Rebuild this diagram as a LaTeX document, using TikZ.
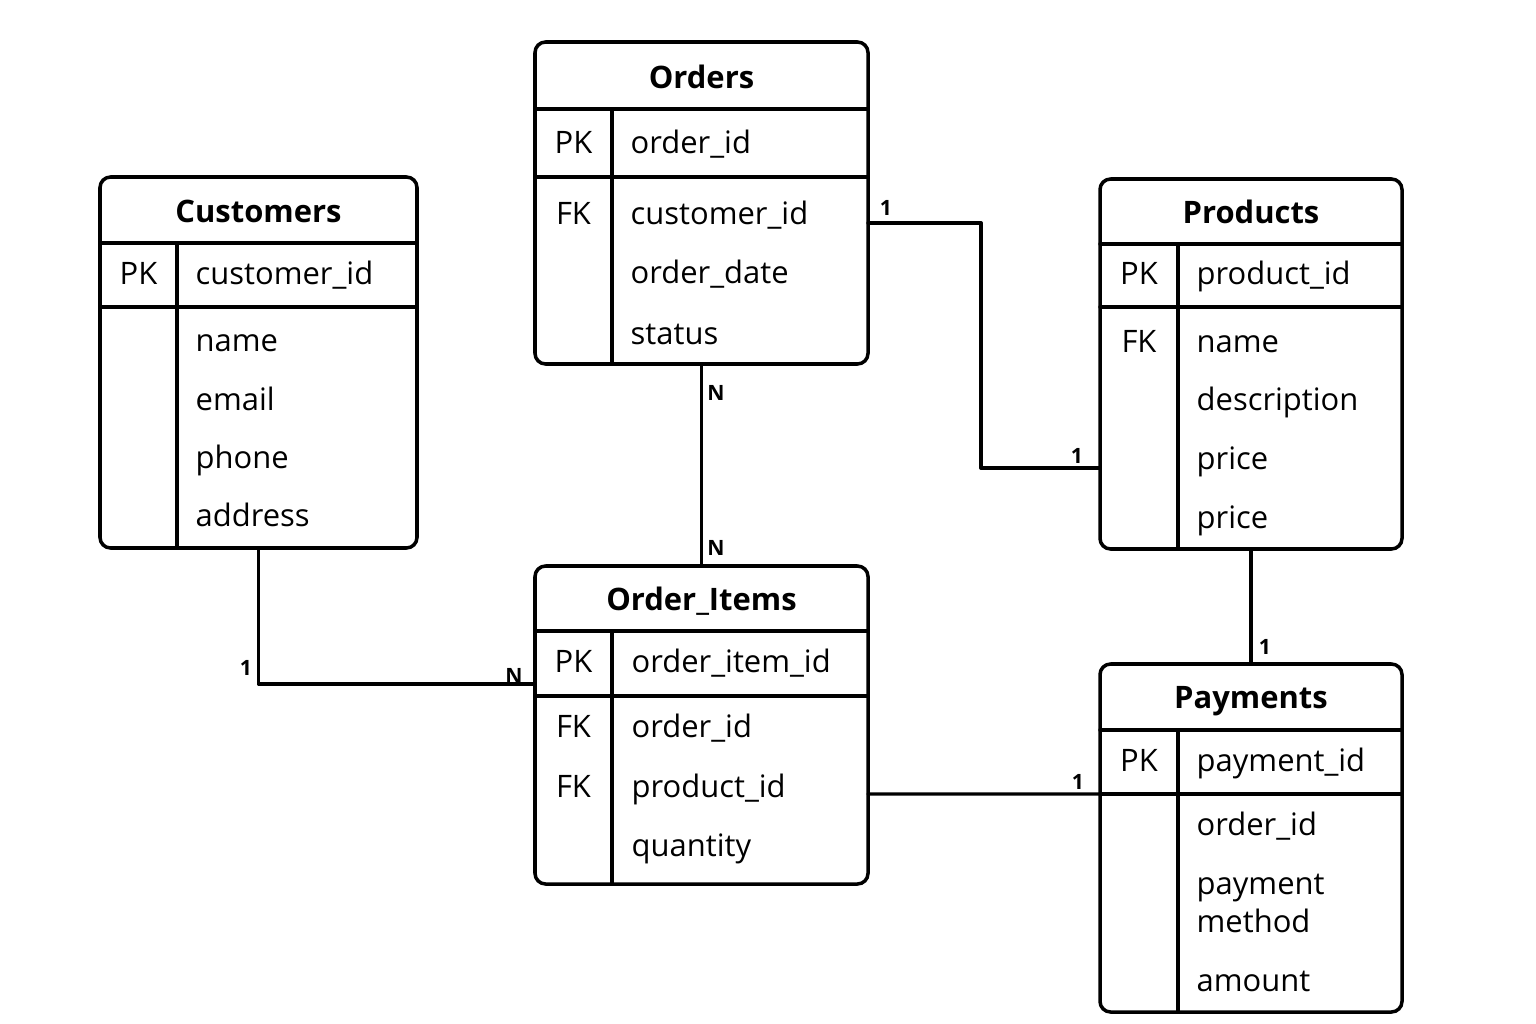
\documentclass[tikz,border=0pt]{standalone}
\usepackage{fontspec}
\setmainfont{Open Sans}
\usetikzlibrary{fit}

\newcommand{\attrfont}{\fontsize{8.8}{10.8}\selectfont}

\tikzset{
  table/.style={draw, line width=1pt, rounded corners=3pt, inner sep=0pt, outer sep=0pt},
  rule/.style={line width=1pt},
  link/.style={line width=0.95pt},
  title/.style={font=\bfseries\attrfont, text height=1.6ex, text depth=0.45ex, inner sep=0pt},
  keyf/.style={font=\attrfont, text height=1.6ex, text depth=0.45ex, inner sep=0pt},
  attr/.style={anchor=west, font=\attrfont, text height=1.6ex, text depth=0.45ex, inner sep=0pt},
  card/.style={font=\bfseries\fontsize{6}{7}\selectfont, inner sep=0pt}
}

% frame of one table: name, left, top, right, bottom, title rule, key rule, column
\newcommand{\ertable}[8]{%
  \node[table, fit={(#2,#3) (#4,#5)}] (#1) {};
  \draw[rule] (#2,#6) -- (#4,#6);
  \draw[rule] (#2,#7) -- (#4,#7);
  \draw[rule] (#8,#6) -- (#8,#5);
}

\begin{document}
\begin{tikzpicture}[x=0.01cm, y=-0.01cm, line cap=round, line join=round]

\useasboundingbox (0,0) rectangle (1536,1024);

% Customers
\ertable{cust}{100}{177}{417}{548}{243}{307}{177}
\node[title] (custT) at (258.5,212) {Customers};
\node[keyf] (custK) at (138.5,274) {PK};
\node[attr] (custId) at (195,274) {customer\_id};
\node[attr] (custName) at (195,341) {name};
\node[attr] (custMail) at (195,400) {email};
\node[attr] (custPhone) at (195,458) {phone};
\node[attr] (custAddr) at (195,516) {address};

% Orders
\ertable{ord}{535}{42}{868}{364}{109}{177}{612}
\node[title] (ordT) at (701.5,78) {Orders};
\node[keyf] (ordK) at (573.5,143) {PK};
\node[keyf] (ordF) at (573.5,214) {FK};
\node[attr] (ordId) at (630,143) {order\_id};
\node[attr] (ordCust) at (630,214) {customer\_id};
\node[attr] (ordDate) at (630,273) {order\_date};
\node[attr] (ordStat) at (630,334) {status};

% Products
\ertable{prod}{1100}{179}{1402}{549}{244}{307}{1178}
\node[title] (prodT) at (1251,213) {Products};
\node[keyf] (prodK) at (1139,274) {PK};
\node[keyf] (prodF) at (1139,342) {FK};
\node[attr] (prodId) at (1196,274) {product\_id};
\node[attr] (prodName) at (1196,342) {name};
\node[attr] (prodDesc) at (1196,400) {description};
\node[attr] (prodPrice) at (1196,459) {price};
\node[attr] (prodPriceB) at (1196,518) {price};

% Order_Items
\ertable{item}{535}{566}{868}{884}{631}{696}{612}
\node[title] (itemT) at (701.5,600) {Order\_Items};
\node[keyf] (itemK) at (573.5,662) {PK};
\node[keyf] (itemFa) at (573.5,727) {FK};
\node[keyf] (itemFb) at (573.5,787) {FK};
\node[attr] (itemId) at (631,662) {order\_item\_id};
\node[attr] (itemOrd) at (631,727) {order\_id};
\node[attr] (itemProd) at (631,787) {product\_id};
\node[attr] (itemQty) at (631,846) {quantity};

% Payments
\ertable{pay}{1100}{664}{1402}{1012}{730}{794}{1178}
\node[title] (payT) at (1251,698) {Payments};
\node[keyf] (payK) at (1139,761) {PK};
\node[attr] (payId) at (1196,761) {payment\_id};
\node[attr] (payOrd) at (1196,825) {order\_id};
\node[anchor=west, font=\attrfont, align=left, inner sep=0pt] (payMeth) at (1196,903) {payment\\method};
\node[attr] (payAmt) at (1196,981) {amount};

% Relationships
\draw[link] ([yshift=-0.2cm]ord.east) -- ++(113,0) |- ([yshift=-1.04cm]prod.west);
\draw[link] (ord.south) -- (item.north);
\draw[link] (cust.south) |- ([yshift=0.41cm]item.west);
\draw[link] ([yshift=-0.69cm]item.east) -- ([yshift=0.44cm]pay.west);
\draw[link] (prod.south) -- (pay.north);

% Cardinalities
\node[card] (cOrdR) at (886,208) {1};
\node[card] (cProdL) at (1077,456) {1};
\node[card] (cOrdB) at (716,393) {N};
\node[card] (cItemT) at (716,548) {N};
\node[card] (cCust) at (246,668) {1};
\node[card] (cItemL) at (514,676) {N};
\node[card] (cPayL) at (1078,782) {1};
\node[card] (cPayT) at (1265,647) {1};

\end{tikzpicture}
\end{document}
